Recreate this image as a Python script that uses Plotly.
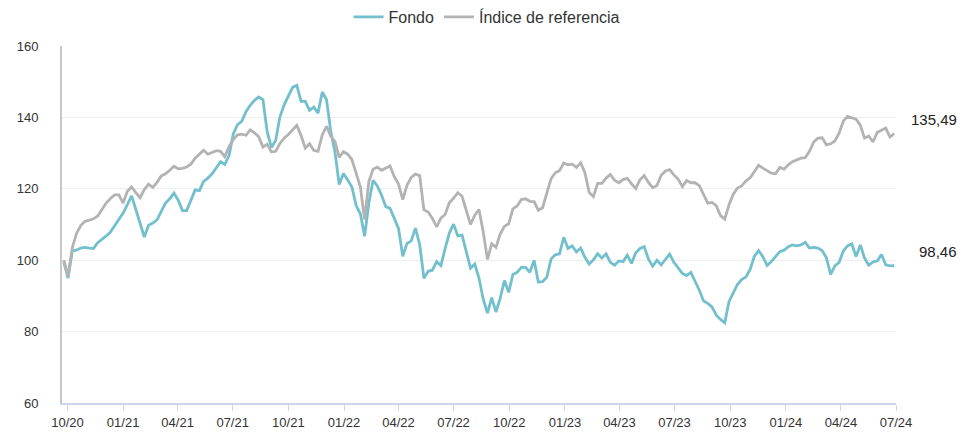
import pandas as pd
import plotly.graph_objects as go

# Weekly observations (Fridays) from 2020-09-25 to 2024-06-28
dates = pd.date_range("2020-09-25", periods=197, freq="7D")

fondo = [
    99.5, 95.0, 102.6, 102.8, 103.4, 103.6, 103.4, 103.3, 104.9, 105.8,
    106.8, 107.9, 109.7, 111.4, 113.2, 115.6, 118.0, 114.2, 110.2, 106.5,
    109.8, 110.4, 111.3, 113.7, 116.0, 117.2, 118.8, 116.8, 113.9, 113.9,
    116.9, 119.7, 119.5, 122.1, 123.0, 124.2, 125.9, 127.6, 126.8, 129.3,
    135.4, 138.0, 138.9, 141.6, 143.4, 144.8, 145.7, 145.0, 136.0, 131.6,
    133.5, 140.1, 143.5, 146.0, 148.4, 149.0, 144.5, 144.5, 142.0, 142.9,
    141.2, 147.1, 145.0, 136.2, 130.3, 121.2, 124.3, 122.5, 120.5, 115.3,
    113.0, 106.7, 116.0, 122.4, 120.8, 118.2, 115.0, 114.5, 111.7, 108.9,
    101.1, 104.7, 105.4, 109.0, 104.4, 94.9, 96.9, 97.2, 99.6, 98.5,
    103.2, 107.6, 110.1, 106.8, 107.0, 102.6, 97.8, 98.9, 95.0, 89.0,
    85.2, 89.5, 85.5, 89.3, 94.3, 91.0, 96.0, 96.6, 98.0, 98.0,
    96.6, 100.0, 93.9, 94.0, 95.2, 100.3, 101.5, 101.8, 106.4, 103.3,
    104.0, 102.3, 103.4, 100.8, 98.9, 100.1, 101.8, 100.6, 101.8, 99.4,
    98.6, 99.8, 99.6, 101.4, 99.1, 102.1, 103.3, 103.8, 100.3, 98.3,
    100.0, 98.7, 100.3, 101.7, 99.4, 97.9, 96.3, 95.7, 96.6, 94.1,
    91.6, 88.6, 87.9, 86.9, 84.6, 83.4, 82.5, 88.4, 90.9, 93.2,
    94.6, 95.3, 97.4, 101.1, 102.7, 101.0, 98.5, 99.6, 101.0, 102.4,
    102.8, 103.8, 104.3, 104.0, 104.3, 105.0, 103.4, 103.6, 103.4, 102.7,
    100.7, 96.0, 98.4, 99.4, 102.6, 104.0, 104.6, 101.0, 104.3, 100.6,
    98.6, 99.5, 99.8, 101.6, 98.7, 98.4, 98.46,
]

indice = [
    100.0, 95.5, 103.5, 107.5, 109.7, 110.9, 111.2, 111.6, 112.4, 114.2,
    116.0, 117.3, 118.3, 118.3, 116.0, 119.3, 120.5, 118.9, 117.5, 119.8,
    121.3, 120.4, 121.8, 123.6, 124.2, 125.2, 126.3, 125.6, 125.7, 126.1,
    126.9, 128.6, 129.8, 130.8, 129.7, 130.3, 130.7, 130.5, 129.0, 131.8,
    133.8, 135.1, 135.3, 135.0, 136.5, 135.7, 134.6, 131.7, 132.5, 130.3,
    130.5, 132.7, 134.2, 135.2, 136.5, 137.8, 134.9, 131.4, 132.6, 130.8,
    130.5, 135.1, 137.5, 134.7, 133.3, 128.8, 130.4, 129.7, 128.2, 124.6,
    120.5, 111.4, 122.0, 125.5, 126.1, 125.2, 125.7, 126.4, 123.4, 121.3,
    117.0, 121.0, 123.2, 124.1, 123.7, 114.1, 113.5, 111.7, 109.3, 111.8,
    112.8, 116.1, 117.4, 118.9, 117.9, 114.0, 110.0, 112.6, 114.2, 107.9,
    100.2, 104.6, 103.6, 107.3, 109.5, 110.2, 114.4, 115.2, 117.0, 117.2,
    116.5, 116.4, 114.0, 114.7, 119.0, 122.8, 124.5, 125.1, 127.2, 126.7,
    126.9, 126.0, 127.3, 124.5, 119.0, 117.8, 121.5, 121.5, 123.0, 124.0,
    122.4, 121.7, 122.6, 122.9, 121.4, 120.1, 122.5, 123.7, 121.8, 120.3,
    120.9, 123.8, 125.0, 125.4, 123.9, 122.7, 120.6, 122.3, 121.7, 121.7,
    120.9, 118.5, 116.0, 116.2, 115.3, 112.5, 111.5, 115.5, 118.4, 120.2,
    120.8, 122.2, 123.1, 124.8, 126.6, 125.8, 125.0, 124.4, 124.2, 126.0,
    125.5, 126.7, 127.6, 128.1, 128.6, 128.7, 130.5, 133.1, 134.2, 134.3,
    132.3, 132.6, 133.4, 135.6, 139.0, 140.3, 139.9, 139.5, 137.8, 134.2,
    134.8, 133.1, 135.8, 136.5, 137.0, 134.5, 135.49,
]

series_names = ["Fondo", "Índice de referencia"]
series_colors = ["#72BFCD", "#B3B3B3"]
y_ticks = [60, 80, 100, 120, 140, 160]

FONT = "Liberation Sans, Arial, Helvetica, sans-serif"
TXT = "#333333"

# The page body has an 8px margin, so the figure is sized to fit the window.
W, H = 965, 425

fig = go.Figure()
for name, vals, col in zip(series_names, [fondo, indice], series_colors):
    fig.add_trace(go.Scatter(
        x=dates, y=vals, mode="lines", name=name,
        line=dict(color=col, width=2.8),
    ))

for vals in [indice, fondo]:
    fig.add_annotation(
        x=1, xref="paper", y=vals[-1], yref="y",
        text=f"{vals[-1]:.2f}".replace(".", ","),
        showarrow=False, xanchor="right", yanchor="middle",
        xshift=63, yshift=14,
        font=dict(family=FONT, size=15, color="#222222"),
    )

fig.update_layout(
    width=W, height=H,
    margin=dict(l=54, r=77, t=38, b=30, autoexpand=False),
    paper_bgcolor="white", plot_bgcolor="white",
    font=dict(family=FONT, size=13, color=TXT),
    showlegend=True,
    legend=dict(
        orientation="h", xref="container", yref="container",
        x=479 / W, xanchor="center", y=1 - 9 / H, yanchor="middle",
        font=dict(family=FONT, size=16, color=TXT),
        itemwidth=30, tracegroupgap=0,
    ),
    hovermode=False,
)

fig.update_xaxes(
    type="date",
    range=["2020-09-22", "2024-07-01"],
    tickmode="linear", tick0="2020-10-01", dtick="M3",
    tickformat="%m/%y",
    showgrid=False,
    showline=True, linecolor="#ccd6eb", linewidth=1.5,
    ticks="outside", ticklen=6, tickcolor="#ccd6eb", tickwidth=1,
    tickfont=dict(family=FONT, size=13, color=TXT),
    ticklabelstandoff=1,
)

fig.update_yaxes(
    range=[60, 160], tickvals=y_ticks,
    showgrid=True, gridcolor="#eeeeee", gridwidth=1,
    zeroline=False,
    showline=True, linecolor="#c8c8c8", linewidth=2,
    ticks="", tickfont=dict(family=FONT, size=13, color=TXT),
    ticklabelstandoff=19,
)

fig.write_html("out.html")
